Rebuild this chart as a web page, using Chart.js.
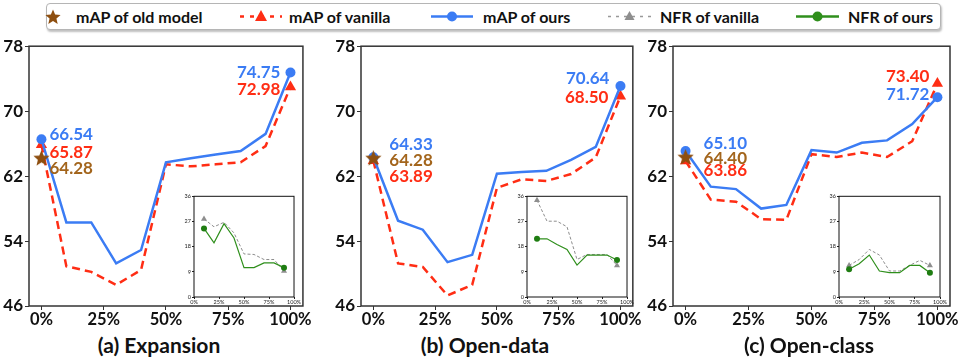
<!DOCTYPE html>
<html>
<head>
<meta charset="utf-8">
<script src="https://cdn.jsdelivr.net/npm/chart.js@4"></script>
<style>
  body { margin: 0; width: 958px; height: 360px; background: #fff; position: relative; overflow: hidden;
         font-family: Lato, "Open Sans", sans-serif; font-weight: bold; }
  canvas { position: absolute; }
  .legend { position: absolute; left: 46px; top: 3px; width: 893px; height: 25px; border: 1px solid #b5b5b5;
            border-radius: 4px; box-shadow: 1px 2px 2px rgba(0,0,0,0.25); background: #fff; }
  .legend span { position: absolute; top: 3px; font-size: 16px; line-height: 19px; color: #111; white-space: nowrap; }
  .legend svg { position: absolute; top: 0; }
  .title { position: absolute; top: 333px; font-size: 21px; line-height: 24px; color: #111; transform: translateX(-50%); white-space: nowrap; }
</style>
</head>
<body>

<div class="legend">
  <svg style="left:-2px" width="16" height="25"><polygon id="lgstar" fill="#8e4f10"/></svg>
  <span style="left:29px">mAP of old model</span>
  <svg style="left:193px" width="42" height="25">
    <line x1="0" y1="12.5" x2="42" y2="12.5" stroke="#ff2d14" stroke-width="2.5" stroke-dasharray="4,6"/>
    <polygon points="21,6 27,17 15,17" fill="#ff2d14"/></svg>
  <span style="left:242px">mAP of vanilla</span>
  <svg style="left:384px" width="42" height="25">
    <line x1="0" y1="12.5" x2="42" y2="12.5" stroke="#3b7cf4" stroke-width="2.5"/>
    <circle cx="21" cy="12.5" r="5" fill="#3b7cf4"/></svg>
  <span style="left:436px">mAP of ours</span>
  <svg style="left:561px" width="43" height="25">
    <line x1="0" y1="12.5" x2="43" y2="12.5" stroke="#999" stroke-width="1.5" stroke-dasharray="3,5"/>
    <polygon points="21.5,7 26.5,16 16.5,16" fill="#8e8e8e"/></svg>
  <span style="left:613px">NFR of vanilla</span>
  <svg style="left:749px" width="43" height="25">
    <line x1="0" y1="12.5" x2="43" y2="12.5" stroke="#2f8f1c" stroke-width="2.5"/>
    <circle cx="21.5" cy="12.5" r="5" fill="#2f8f1c"/></svg>
  <span style="left:801px">NFR of ours</span>
</div>

<canvas id="m1"></canvas>
<canvas id="m2"></canvas>
<canvas id="m3"></canvas>
<canvas id="i1"></canvas>
<canvas id="i2"></canvas>
<canvas id="i3"></canvas>

<div class="title" style="left:159px">(a) Expansion</div>
<div class="title" style="left:485px">(b) Open-data</div>
<div class="title" style="left:809px">(c) Open-class</div>

<script>
// ---- data ----
const steps = [0, 10, 20, 30, 40, 50, 60, 70, 80, 90, 100];
const nfrSteps = [10, 20, 30, 40, 50, 60, 70, 80, 90];
const xTicks = [0, 25, 50, 75, 100];
const yTicks = [46, 54, 62, 70, 78];
const nfrTicks = [0, 9, 18, 27, 36];

// (a) Expansion
const expOld = 64.28;
const expOurs = [66.54, 56.3, 56.3, 51.25, 52.9, 63.7, 64.2, 64.65, 65.1, 67.2, 74.75];
const expVanilla = [65.87, 50.9, 50.2, 48.6, 50.45, 63.45, 63.2, 63.45, 63.7, 65.7, 72.98];
const expNfrVanilla = [27.9, 25.1, 26.7, 22.9, 15.4, 15.2, 13.4, 13.4, 9.3];
const expNfrOurs = [24.5, 19.4, 26.2, 21.1, 10.5, 10.5, 12.2, 12.2, 10.5];
const expText = ['66.54', '65.87', '64.28', '74.75', '72.98'];

// (b) Open-data
const dataOld = 64.28;
const dataOurs = [64.33, 56.5, 55.4, 51.4, 52.3, 62.3, 62.5, 62.65, 64.0, 65.6, 73.1];
const dataVanilla = [63.89, 51.25, 50.8, 47.3, 48.6, 60.55, 61.6, 61.4, 62.25, 64.3, 71.85];
const dataNfrVanilla = [34.6, 27.1, 27.1, 25.1, 13.4, 15.2, 15.2, 15.2, 11.3];
const dataNfrOurs = [20.8, 20.8, 18.8, 17.0, 11.4, 15.0, 15.0, 15.0, 13.2];
const dataText = ['64.33', '64.28', '63.89', '70.64', '68.50'];

// (c) Open-class
const classOld = 64.40;
const classOurs = [65.10, 60.7, 60.4, 58.0, 58.45, 65.2, 64.9, 66.1, 66.4, 68.4, 71.72];
const classVanilla = [63.86, 59.1, 58.85, 56.7, 56.6, 64.7, 64.35, 64.9, 64.35, 66.3, 73.40];
const classNfrVanilla = [11.3, 13.4, 17.0, 15.0, 9.3, 9.3, 11.3, 13.1, 11.3];
const classNfrOurs = [9.9, 11.9, 15.0, 9.3, 8.7, 8.7, 11.3, 11.3, 8.7];
const classText = ['65.10', '64.40', '63.86', '73.40', '71.72'];

// ---- styles ----
const BLUE = '#3b7cf4', RED = '#ff2d14', BROWN = '#8e4f10', BROWN_TXT = '#a3651c',
      GRAY = '#8e8e8e', GREEN = '#2f8f1c', GREEN_PT = '#1f7d12';
const FONT = 'Lato, "Open Sans", sans-serif';

function starPath(cx, cy, r) {
  const pts = [];
  for (let i = 0; i < 10; i++) {
    const a = -Math.PI / 2 + i * Math.PI / 5, rr = i % 2 ? r * 0.45 : r;
    pts.push([cx + rr * Math.cos(a), cy + rr * Math.sin(a)]);
  }
  return pts;
}
function starImage(size, color) {
  const c = document.createElement('canvas');
  c.width = c.height = size;
  const g = c.getContext('2d');
  g.beginPath();
  starPath(size / 2, size / 2 + 1, size / 2).forEach(([x, y], i) => i ? g.lineTo(x, y) : g.moveTo(x, y));
  g.closePath();
  g.fillStyle = color;
  g.fill();
  return c;
}
document.getElementById('lgstar').setAttribute('points',
  starPath(8, 13.5, 8).map(p => p.join(',')).join(' '));
const star = starImage(17, BROWN);

const ends = (n, r) => Array.from({ length: n }, (_, i) => (i === 0 || i === n - 1) ? r : 0);
const pts = (xs, ys) => xs.map((x, i) => ({ x, y: ys[i] }));

const framePlugin = {
  id: 'frame',
  beforeDatasetsDraw(chart, args, o) {
    if (!o.fill) return;
    const a = chart.chartArea, g = chart.ctx;
    g.save(); g.fillStyle = o.fill; g.fillRect(a.left, a.top, a.right - a.left, a.bottom - a.top); g.restore();
  },
  afterDraw(chart, args, o) {
    const a = chart.chartArea, g = chart.ctx;
    g.save(); g.strokeStyle = o.color; g.lineWidth = o.width;
    g.strokeRect(a.left, a.top, a.right - a.left, a.bottom - a.top); g.restore();
  }
};
const textPlugin = {
  id: 'ptText',
  afterDraw(chart, args, o) {
    const g = chart.ctx, xs = chart.scales.x, ys = chart.scales.y;
    g.save();
    g.font = 'bold 17px ' + FONT;
    g.textBaseline = 'middle';
    (o.items || []).forEach(it => {
      g.fillStyle = it.color;
      g.textAlign = it.align;
      g.fillText(it.text, xs.getPixelForValue(it.x) + it.dx, ys.getPixelForValue(it.y) + it.dy);
    });
    g.restore();
  }
};

function place(id, left, top, w, h) {
  const c = document.getElementById(id);
  c.width = w; c.height = h;
  c.style.left = left + 'px'; c.style.top = top + 'px';
  return c;
}

function mainChart(id, plotLeft, plotRight, old, ours, vanilla, items) {
  const w = plotRight - plotLeft + 46;
  const c = place(id, plotLeft - 40, 34, w, 298);
  const n = steps.length;
  new Chart(c, {
    type: 'line',
    data: {
      datasets: [
        { data: [{ x: 0, y: old }], pointStyle: star, pointRadius: 8, showLine: false },
        { data: pts(steps, ours), borderColor: BLUE, borderWidth: 2.5, pointRadius: ends(n, 5),
          pointBackgroundColor: BLUE, pointBorderWidth: 0, tension: 0 },
        { data: pts(steps, vanilla), borderColor: RED, borderWidth: 2.5, borderDash: [8, 5],
          pointStyle: 'triangle', pointRadius: ends(n, 6.5), pointBackgroundColor: RED, pointBorderWidth: 0 }
      ]
    },
    options: {
      responsive: false, animation: false,
      layout: { padding: { top: 8, right: 6, left: 0, bottom: 0 } },
      plugins: {
        legend: { display: false }, tooltip: { enabled: false },
        frame: { color: '#333', width: 1.5 },
        ptText: { items }
      },
      scales: {
        x: {
          type: 'linear', min: -5, max: 105,
          afterBuildTicks: s => { s.ticks = xTicks.map(v => ({ value: v })); },
          afterFit: s => { s.height = 26; },
          ticks: { callback: v => v + '%', color: '#111', font: { family: FONT, size: 16.5, weight: 'bold' }, padding: 0, maxRotation: 0 },
          grid: { drawOnChartArea: false, drawTicks: true, tickLength: 4, color: '#333' },
          border: { display: false }
        },
        y: {
          min: 46, max: 78,
          afterBuildTicks: s => { s.ticks = yTicks.map(v => ({ value: v })); },
          afterFit: s => { s.width = 40; },
          ticks: { color: '#111', font: { family: FONT, size: 17, weight: 'bold' }, padding: 2 },
          grid: { drawOnChartArea: false, drawTicks: true, tickLength: 4, color: '#333' },
          border: { display: false }
        }
      }
    },
    plugins: [framePlugin, textPlugin]
  });
}

function insetChart(id, plotLeft, plotRight, vanilla, ours) {
  const w = plotRight - plotLeft + 18;
  const c = place(id, plotLeft - 14, 192, w, 113);
  const n = nfrSteps.length;
  const tickFont = { family: FONT, size: 5.5 };
  new Chart(c, {
    type: 'line',
    data: {
      datasets: [
        { data: pts(nfrSteps, ours), borderColor: GREEN, borderWidth: 1.2, pointRadius: ends(n, 3),
          pointBackgroundColor: GREEN_PT, pointBorderWidth: 0 },
        { data: pts(nfrSteps, vanilla), borderColor: GRAY, borderWidth: 1, borderDash: [3, 2],
          pointStyle: 'triangle', pointRadius: ends(n, 3.5), pointBackgroundColor: GRAY, pointBorderWidth: 0 }
      ]
    },
    options: {
      responsive: false, animation: false,
      layout: { padding: { top: 4, right: 4, left: 0, bottom: 0 } },
      plugins: {
        legend: { display: false }, tooltip: { enabled: false },
        frame: { color: '#111', width: 1, fill: '#fff' }
      },
      scales: {
        x: {
          type: 'linear', min: 0, max: 100,
          afterBuildTicks: s => { s.ticks = xTicks.map(v => ({ value: v })); },
          afterFit: s => { s.height = 8; },
          ticks: { callback: v => v + '%', color: '#222', font: tickFont, padding: 0, maxRotation: 0 },
          grid: { drawOnChartArea: false, tickLength: 2, color: '#222' },
          border: { display: false }
        },
        y: {
          min: 0, max: 36,
          afterBuildTicks: s => { s.ticks = nfrTicks.map(v => ({ value: v })); },
          afterFit: s => { s.width = 14; },
          ticks: { color: '#222', font: tickFont, padding: 1 },
          grid: { drawOnChartArea: false, tickLength: 2, color: '#222' },
          border: { display: false }
        }
      }
    },
    plugins: [framePlugin]
  });
}

const last = steps.length - 1;
mainChart('m1', 29, 306, expOld, expOurs, expVanilla, [
  { text: expText[0], color: BLUE, x: 0, y: expOurs[0], dx: 8, dy: -5, align: 'left' },
  { text: expText[1], color: RED, x: 0, y: expVanilla[0], dx: 8, dy: 8, align: 'left' },
  { text: expText[2], color: BROWN_TXT, x: 0, y: expOld, dx: 8, dy: 11, align: 'left' },
  { text: expText[3], color: BLUE, x: 100, y: expOurs[last], dx: -10, dy: 0, align: 'right' },
  { text: expText[4], color: RED, x: 100, y: expVanilla[last], dx: -10, dy: 3, align: 'right' }
]);
mainChart('m2', 361, 636, dataOld, dataOurs, dataVanilla, [
  { text: dataText[0], color: BLUE, x: 0, y: dataOurs[0], dx: 16, dy: -13, align: 'left' },
  { text: dataText[1], color: BROWN_TXT, x: 0, y: dataOld, dx: 16, dy: 3, align: 'left' },
  { text: dataText[2], color: RED, x: 0, y: dataVanilla[0], dx: 16, dy: 16, align: 'left' },
  { text: dataText[3], color: BLUE, x: 100, y: dataOurs[last], dx: -11, dy: -7, align: 'right' },
  { text: dataText[4], color: RED, x: 100, y: dataVanilla[last], dx: -12, dy: 1, align: 'right' }
]);
mainChart('m3', 673, 953, classOld, classOurs, classVanilla, [
  { text: classText[0], color: BLUE, x: 0, y: classOurs[0], dx: 18, dy: -7, align: 'left' },
  { text: classText[1], color: BROWN_TXT, x: 0, y: classOld, dx: 18, dy: 2, align: 'left' },
  { text: classText[2], color: RED, x: 0, y: classVanilla[0], dx: 18, dy: 10, align: 'left' },
  { text: classText[3], color: RED, x: 100, y: classVanilla[last], dx: -8, dy: -7, align: 'right' },
  { text: classText[4], color: BLUE, x: 100, y: classOurs[last], dx: -8, dy: -3, align: 'right' }
]);

insetChart('i1', 194, 297, expNfrVanilla, expNfrOurs);
insetChart('i2', 527, 630, dataNfrVanilla, dataNfrOurs);
insetChart('i3', 839, 943, classNfrVanilla, classNfrOurs);
</script>
</body>
</html>
